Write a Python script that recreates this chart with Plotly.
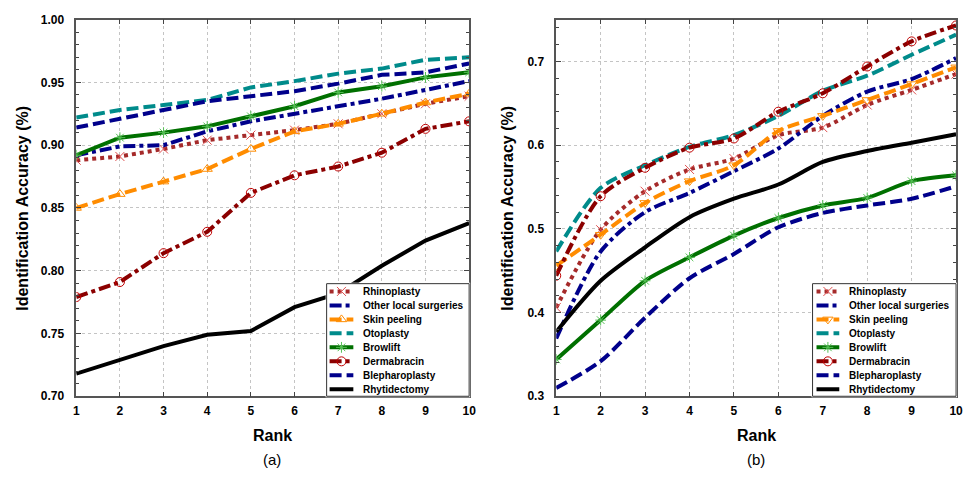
import plotly.graph_objects as go

W, H = 969, 479

# ---------------- data ----------------
ranks = list(range(1, 11))
series_names = ["Rhinoplasty", "Other local surgeries", "Skin peeling", "Otoplasty",
                "Browlift", "Dermabracin", "Blepharoplasty", "Rhytidectomy"]

# panel (a)
a_rhinoplasty = [0.888, 0.891, 0.897, 0.904, 0.908, 0.912, 0.917, 0.925, 0.933, 0.939]
a_other_local = [0.892, 0.899, 0.900, 0.911, 0.919, 0.925, 0.931, 0.937, 0.944, 0.951]
a_skin_peeling = [0.850, 0.861, 0.871, 0.881, 0.897, 0.911, 0.917, 0.925, 0.934, 0.941]
a_otoplasty = [0.922, 0.928, 0.932, 0.936, 0.946, 0.951, 0.957, 0.961, 0.968, 0.970]
a_browlift = [0.892, 0.906, 0.910, 0.915, 0.923, 0.931, 0.942, 0.947, 0.954, 0.958]
a_dermabracin = [0.779, 0.791, 0.814, 0.831, 0.862, 0.876, 0.883, 0.894, 0.913, 0.919]
a_blepharoplasty = [0.914, 0.921, 0.928, 0.935, 0.939, 0.943, 0.949, 0.956, 0.958, 0.965]
a_rhytidectomy = [0.718, 0.729, 0.740, 0.749, 0.752, 0.771, 0.782, 0.804, 0.824, 0.838]

# panel (b)
b_rhinoplasty = [0.406, 0.499, 0.545, 0.571, 0.584, 0.612, 0.621, 0.648, 0.666, 0.685]
b_other_local = [0.369, 0.473, 0.520, 0.543, 0.569, 0.596, 0.635, 0.664, 0.679, 0.704]
b_skin_peeling = [0.456, 0.493, 0.531, 0.557, 0.576, 0.617, 0.635, 0.654, 0.673, 0.693]
b_otoplasty = [0.473, 0.549, 0.576, 0.598, 0.612, 0.635, 0.665, 0.683, 0.708, 0.732]
b_browlift = [0.344, 0.391, 0.438, 0.466, 0.492, 0.513, 0.528, 0.537, 0.557, 0.564]
b_dermabracin = [0.444, 0.539, 0.573, 0.597, 0.608, 0.640, 0.662, 0.694, 0.724, 0.743]
b_blepharoplasty = [0.310, 0.342, 0.394, 0.441, 0.470, 0.502, 0.519, 0.528, 0.536, 0.551]
b_rhytidectomy = [0.377, 0.438, 0.478, 0.514, 0.536, 0.553, 0.580, 0.593, 0.603, 0.613]

panel_a = [a_rhinoplasty, a_other_local, a_skin_peeling, a_otoplasty,
           a_browlift, a_dermabracin, a_blepharoplasty, a_rhytidectomy]
panel_b = [b_rhinoplasty, b_other_local, b_skin_peeling, b_otoplasty,
           b_browlift, b_dermabracin, b_blepharoplasty, b_rhytidectomy]

# ---------------- styles ----------------
DASH = "12px,5px"
DASHDOT = "12px,4px,4px,4px"
DOT = "4px,4px"
styles = [
    dict(color="#A52A2A", dash=DOT, sym="x-thin-open", mcol="#E05050"),
    dict(color="#00008B", dash=DASHDOT, sym=None, mcol=None),
    dict(color="#FF8C00", dash=DASH, sym="triangle-up-open", mcol="#FF8C00"),
    dict(color="#008B8B", dash=DASH, sym=None, mcol=None),
    dict(color="#007000", dash="solid", sym="asterisk-open", mcol="#55C055"),
    dict(color="#8B0000", dash=DASHDOT, sym="circle-open", mcol="#C00000"),
    dict(color="#00008B", dash=DASH, sym=None, mcol=None),
    dict(color="#000000", dash="solid", sym=None, mcol=None),
]
LW = 4
FONT = "Liberation Sans, Arial, sans-serif"

fig = go.Figure()


def add_series(vals, st, xa, ya, shape, sym_override=None):
    sym = sym_override if (sym_override and st["sym"]) else st["sym"]
    mode = "lines+markers" if sym else "lines"
    kw = {}
    if sym:
        kw["marker"] = dict(symbol=sym, size=9, color=st["mcol"],
                            line=dict(color=st["mcol"], width=1))
    fig.add_trace(go.Scatter(x=ranks, y=vals, mode=mode, xaxis=xa, yaxis=ya,
                             line=dict(color=st["color"], width=LW, dash=st["dash"],
                                       shape=shape, smoothing=0.8),
                             showlegend=False, hoverinfo="skip", **kw))


for vals, st in zip(panel_a, styles):
    add_series(vals, st, "x", "y", "linear")
for i, (vals, st) in enumerate(zip(panel_b, styles)):
    add_series(vals, st, "x2", "y2", "spline",
               sym_override="triangle-down-open" if i == 2 else None)

# ---------------- custom legends ----------------
def px_dom_x(a, b):
    return [a / W, b / W]


def px_dom_y(top, bottom):
    return [(H - bottom) / H, (H - top) / H]


legend_boxes = [
    dict(xa="x3", ya="y3", left=327, right=471, top=285, bottom=401, l0=3, l1=27, tx=35, tri="triangle-up-open"),
    dict(xa="x4", ya="y4", left=818, right=963, top=285, bottom=401, l0=4, l1=27, tx=35, tri="triangle-down-open"),
]
annotations = []
for lb in legend_boxes:
    w = lb["right"] - lb["left"]
    h = lb["bottom"] - lb["top"]
    fig.add_trace(go.Scatter(x=[0, w, w, 0, 0], y=[0, 0, h, h, 0], mode="lines",
                             fill="toself", fillcolor="white",
                             line=dict(color="#333333", width=1),
                             xaxis=lb["xa"], yaxis=lb["ya"], showlegend=False, hoverinfo="skip"))
    for i, (name, st) in enumerate(zip(series_names, styles)):
        yy = 8 + i * 14.4
        fig.add_trace(go.Scatter(x=[lb["l0"], lb["l1"]], y=[yy, yy], mode="lines",
                                 line=dict(color=st["color"], width=LW, dash=st["dash"]),
                                 xaxis=lb["xa"], yaxis=lb["ya"], showlegend=False, hoverinfo="skip"))
        if st["sym"]:
            sym = lb["tri"] if i == 2 else st["sym"]
            fig.add_trace(go.Scatter(x=[(lb["l0"] + lb["l1"]) / 2], y=[yy], mode="markers",
                                     marker=dict(symbol=sym, size=9, color=st["mcol"],
                                                 line=dict(color=st["mcol"], width=1)),
                                     xaxis=lb["xa"], yaxis=lb["ya"], showlegend=False, hoverinfo="skip"))
        annotations.append(dict(x=lb["tx"], y=yy, xref=lb["xa"], yref=lb["ya"], text=name,
                                showarrow=False, xanchor="left", yanchor="middle",
                                font=dict(family=FONT, size=10, color="black", weight="bold")))

# ---------------- axes ----------------
common_x = dict(range=[1, 10], dtick=1, tick0=1, ticks="inside", ticklen=5, tickwidth=1,
                tickcolor="#444", showline=True, linecolor="#555", linewidth=1.5, mirror="allticks",
                showgrid=True, gridcolor="#c4c4c4", griddash="dot", gridwidth=1, zeroline=False,
                tickfont=dict(family=FONT, size=12, color="black", weight="bold"),
                ticklabelstandoff=3)
common_y = dict(ticks="inside", ticklen=5, tickwidth=1, tickcolor="#444", showline=True,
                linecolor="#555", linewidth=1.5, mirror="allticks", showgrid=True,
                gridcolor="#c4c4c4", griddash="dot", gridwidth=1, zeroline=False,
                tickfont=dict(family=FONT, size=12, color="black", weight="bold"),
                ticklabelstandoff=8)

hidden = dict(visible=False, showgrid=False, zeroline=False, fixedrange=True)

fig.update_layout(
    width=W, height=H, margin=dict(l=0, r=0, t=0, b=0),
    paper_bgcolor="white", plot_bgcolor="white", showlegend=False,
    xaxis=dict(domain=px_dom_x(74, 471), anchor="y", **common_x),
    yaxis=dict(domain=px_dom_y(13, 401), anchor="x", range=[0.70, 1.00], dtick=0.05, tick0=0.70,
               tickformat=".2f", minor=dict(dtick=0.01, ticks="inside", ticklen=3, tickcolor="#444",
                                            showgrid=False), **common_y),
    xaxis2=dict(domain=px_dom_x(559, 963), anchor="y2", **common_x),
    yaxis2=dict(domain=px_dom_y(13, 401), anchor="x2", range=[0.30, 0.75], dtick=0.1, tick0=0.30,
                tickformat=".1f", minor=dict(dtick=0.02, ticks="inside", ticklen=3, tickcolor="#444",
                                             showgrid=False), **common_y),
    xaxis3=dict(domain=px_dom_x(327 - 1, 471 + 1), anchor="y3", range=[-1, 145], **hidden),
    yaxis3=dict(domain=px_dom_y(285 - 1, 401 + 1), anchor="x3", range=[117, -1], **hidden),
    xaxis4=dict(domain=px_dom_x(818 - 1, 963 + 1), anchor="y4", range=[-1, 146], **hidden),
    yaxis4=dict(domain=px_dom_y(285 - 1, 401 + 1), anchor="x4", range=[117, -1], **hidden),
)

title_font = dict(family=FONT, size=16, color="black", weight="bold")
rank_font = dict(family=FONT, size=16, color="black", weight="bold")
cap_font = dict(family=FONT, size=15, color="black")
for xc_title, xc_rank, cap in [(20, 272, "(a)"), (510, 761, "(b)")]:
    annotations.append(dict(x=xc_title / W, y=(H - 207) / H, xref="paper", yref="paper",
                            text="Identification Accuracy (%)", textangle=-90, showarrow=False,
                            xanchor="center", yanchor="middle", font=title_font))
    annotations.append(dict(x=xc_rank / W, y=(H - 441) / H, xref="paper", yref="paper",
                            text="Rank", showarrow=False, xanchor="center", yanchor="middle",
                            font=rank_font))
    annotations.append(dict(x=xc_rank / W, y=(H - 466) / H, xref="paper", yref="paper",
                            text=cap, showarrow=False, xanchor="center", yanchor="middle",
                            font=cap_font))
fig.update_layout(annotations=annotations)

fig.write_html("out.html")
